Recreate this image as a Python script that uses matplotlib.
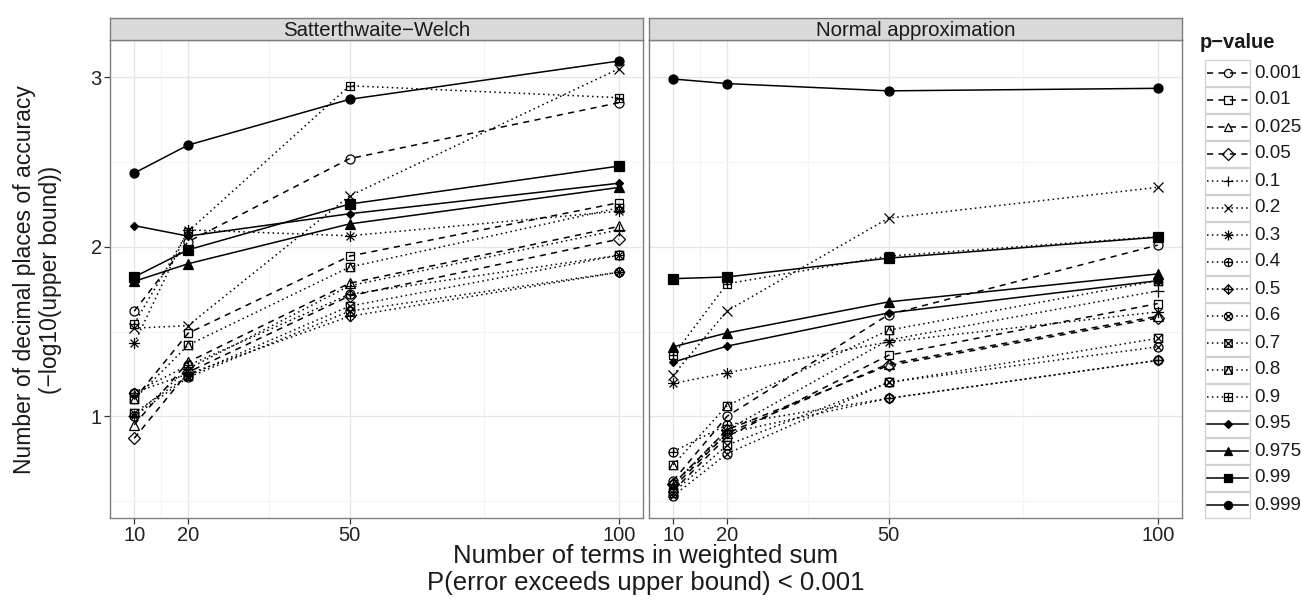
import matplotlib
matplotlib.use("Agg")
import matplotlib.pyplot as plt
from matplotlib.path import Path
from matplotlib.markers import MarkerStyle

plt.rcParams['font.family'] = ['Liberation Sans', 'DejaVu Sans']

# Datos
n_terms = [10, 20, 50, 100]
p_values = ['0.001', '0.01', '0.025', '0.05', '0.1', '0.2', '0.3', '0.4', '0.5',
            '0.6', '0.7', '0.8', '0.9', '0.95', '0.975', '0.99', '0.999']
panels = ['Satterthwaite\u2212Welch', 'Normal approximation']

welch = [
    [1.62, 2.03, 2.52, 2.85],
    [1.10, 1.49, 1.945, 2.26],
    [0.95, 1.32, 1.785, 2.12],
    [0.87, 1.26, 1.71, 2.045],
    [1.00, 1.28, 1.77, 2.10],
    [1.52, 1.535, 2.30, 3.05],
    [1.43, 2.10, 2.065, 2.21],
    [1.14, 1.30, 1.72, 1.95],
    [1.14, 1.25, 1.59, 1.85],
    [1.00, 1.23, 1.62, 1.85],
    [1.02, 1.24, 1.65, 1.95],
    [1.10, 1.42, 1.88, 2.23],
    [1.545, 2.09, 2.95, 2.88],
    [2.125, 2.063, 2.195, 2.375],
    [1.796, 1.90, 2.135, 2.35],
    [1.822, 1.982, 2.252, 2.476],
    [2.435, 2.60, 2.87, 3.096],
]

normal = [
    [0.62, 1.00, 1.60, 2.01],
    [0.56, 0.88, 1.36, 1.665],
    [0.58, 0.90, 1.31, 1.59],
    [0.60, 0.92, 1.30, 1.58],
    [0.60, 0.92, 1.45, 1.74],
    [1.243, 1.622, 2.169, 2.351],
    [1.194, 1.257, 1.439, 1.616],
    [0.792, 0.95, 1.106, 1.33],
    [0.60, 0.90, 1.106, 1.33],
    [0.53, 0.78, 1.20, 1.41],
    [0.55, 0.83, 1.20, 1.46],
    [0.714, 1.063, 1.508, 1.80],
    [1.36, 1.782, 1.945, 2.06],
    [1.32, 1.414, 1.61, 1.80],
    [1.41, 1.492, 1.675, 1.84],
    [1.812, 1.822, 1.933, 2.057],
    [2.99, 2.963, 2.92, 2.935],
]

# Formas de puntos al estilo ggplot
M, L, C = Path.MOVETO, Path.LINETO, Path.CLOSEPOLY
circ = Path.unit_circle()
sq = Path([(-1, -1), (1, -1), (1, 1), (-1, 1), (-1, -1)], [M, L, L, L, C])
dia = Path([(0, -1), (1, 0), (0, 1), (-1, 0), (0, -1)], [M, L, L, L, C])
tri_in = Path([(-1, -1), (0, 1), (1, -1)], [M, L, L])
plus = Path([(-1, 0), (1, 0), (0, -1), (0, 1)], [M, L, M, L])
cross = Path([(-1, -1), (1, 1), (-1, 1), (1, -1)], [M, L, M, L])
k = 0.7071
cross_s = Path([(-k, -k), (k, k), (-k, k), (k, -k)], [M, L, M, L])


def shape(*parts):
    return MarkerStyle(Path.make_compound_path(*parts))


dash = (0, (4, 3.5))
dot = (0, (1, 2.2))
solid = '-'

# (estilo de línea, marcador, tamaño, relleno)
styles = [
    (dash, 'o', 6.5, False),
    (dash, 's', 6.0, False),
    (dash, '^', 7.0, False),
    (dash, 'D', 6.5, False),
    (dot, '+', 8.0, False),
    (dot, 'x', 6.5, False),
    (dot, shape(plus, cross_s), 8.0, False),
    (dot, shape(circ, plus), 6.5, False),
    (dot, shape(dia, plus), 7.5, False),
    (dot, shape(circ, cross_s), 6.5, False),
    (dot, shape(sq, cross), 6.0, False),
    (dot, shape(sq, tri_in), 6.0, False),
    (dot, shape(sq, plus), 6.0, False),
    (solid, 'D', 4.5, True),
    (solid, '^', 7.0, True),
    (solid, 's', 6.5, True),
    (solid, 'o', 6.5, True),
]

W, H = 1302, 601
fig = plt.figure(figsize=(W / 100, H / 100), dpi=100)

panel_px = [(110, 643), (649, 1182)]
top_px, bot_px = 40, 518
axes = []
for i, (x0, x1) in enumerate(panel_px):
    ax = fig.add_axes([x0 / W, 1 - bot_px / H, (x1 - x0) / W, (bot_px - top_px) / H])
    data = welch if i == 0 else normal
    for row, (ls, mk, ms, filled) in zip(data, styles):
        ax.plot(n_terms, row, color='black', linestyle=ls, linewidth=1.1,
                marker=mk, markersize=ms, markeredgewidth=0.9,
                markerfacecolor='black' if filled else 'none',
                markeredgecolor='black', dash_capstyle='butt')
    ax.set_xlim(5.5, 104.5)
    ax.set_ylim(0.40, 3.22)
    ax.set_xticks(n_terms)
    ax.set_xticks([15, 35, 75], minor=True)
    ax.set_yticks([1, 2, 3])
    ax.set_yticks([0.5, 1.5, 2.5], minor=True)
    ax.grid(which='major', color='#E6E6E6', linewidth=0.9)
    ax.grid(which='minor', color='#F4F4F4', linewidth=0.9)
    ax.set_axisbelow(True)
    for s in ax.spines.values():
        s.set_color('#7F7F7F')
        s.set_linewidth(1.0)
    ax.tick_params(which='minor', length=0)
    ax.tick_params(which='major', length=4, width=0.9, color='#333333',
                   labelsize=14.5, labelcolor='#222222', pad=2)
    if i == 1:
        ax.tick_params(axis='y', length=0, labelleft=False)

    # franja del título del panel
    sax = fig.add_axes([x0 / W, 1 - top_px / H, (x1 - x0) / W, 22 / H])
    sax.set_facecolor('#D9D9D9')
    sax.set_xticks([])
    sax.set_yticks([])
    for s in sax.spines.values():
        s.set_color('#7F7F7F')
        s.set_linewidth(1.0)
    sax.text(0.5, 0.45, panels[i], ha='center', va='center', fontsize=14.7,
             color='#1A1A1A', transform=sax.transAxes)
    axes.append(ax)

# Títulos de los ejes
fig.text(646 / W, 1 - 556 / H, 'Number of terms in weighted sum',
         ha='center', va='center', fontsize=18.5, color='#1A1A1A')
fig.text(646 / W, 1 - 583 / H, 'P(error exceeds upper bound) < 0.001',
         ha='center', va='center', fontsize=18.5, color='#1A1A1A')
fig.text(25 / W, 1 - 280 / H, 'Number of decimal places of accuracy',
         ha='center', va='center', rotation=90, fontsize=16.5, color='#1A1A1A')
fig.text(51 / W, 1 - 280 / H, '(\u2212log10(upper bound))',
         ha='center', va='center', rotation=90, fontsize=16.5, color='#1A1A1A')

# Leyenda dibujada a mano
lax = fig.add_axes([0, 0, 1, 1])
lax.set_xlim(0, W)
lax.set_ylim(H, 0)
lax.axis('off')
lax.text(1200, 42, 'p\u2212value', fontsize=14.5, fontweight='bold',
         ha='left', va='center', color='#1A1A1A')
for j, (lab, (ls, mk, ms, filled)) in enumerate(zip(p_values, styles)):
    yc = 73 + 27 * j
    lax.add_patch(plt.Rectangle((1205, yc - 13), 45, 26, facecolor='white',
                                edgecolor='#D0D0D0', linewidth=0.9))
    lax.plot([1207, 1248], [yc, yc], color='black', linestyle=ls, linewidth=1.1,
             dash_capstyle='butt')
    lax.plot([1227.5], [yc], color='black', marker=mk, markersize=ms * 0.9,
             markeredgewidth=0.9, markerfacecolor='black' if filled else 'none',
             markeredgecolor='black', linestyle='none')
    lax.text(1254, yc, lab, fontsize=13.5, ha='left', va='center', color='#1A1A1A')

fig.savefig('out.png', dpi=100)
